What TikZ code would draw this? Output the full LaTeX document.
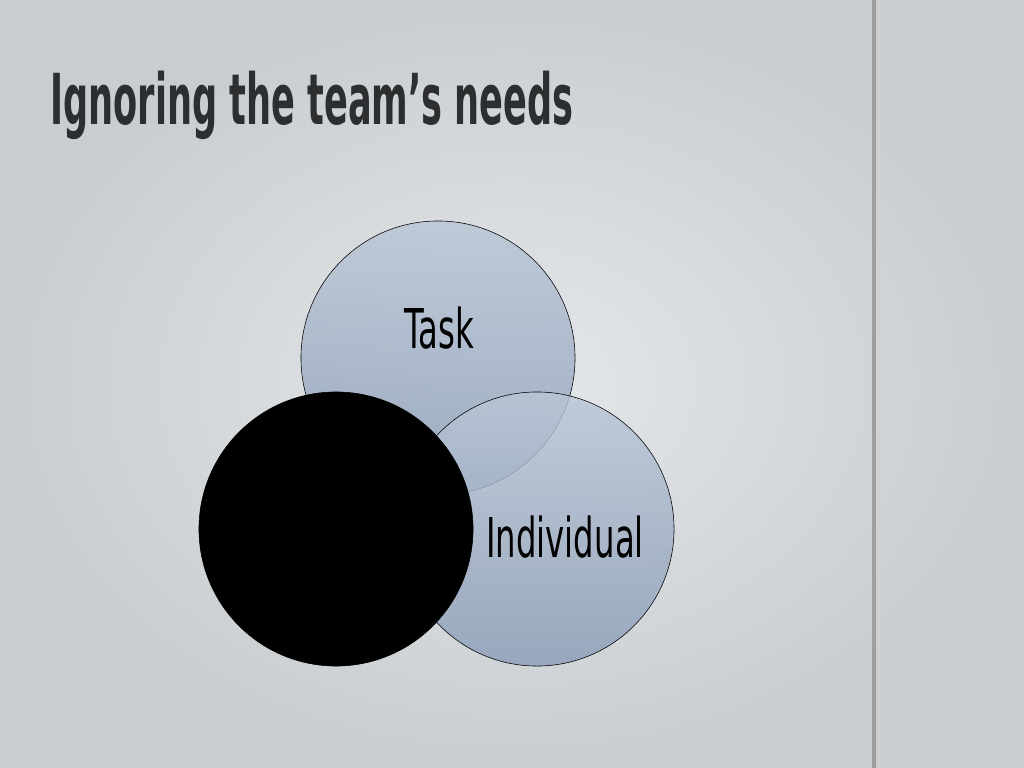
\documentclass[tikz,border=0pt]{standalone}
\usepackage{fontspec}
\newfontfamily\agency[FakeStretch=0.59]{DejaVu Sans}
\newfontfamily\agencytitle[FakeStretch=0.5]{DejaVu Sans}
\usetikzlibrary{positioning}

\definecolor{slidebg}{RGB}{229,232,234}
\definecolor{slideedge}{RGB}{200,205,208}
\definecolor{ringtop}{RGB}{186,198,214}
\definecolor{ringbot}{RGB}{140,158,184}
\definecolor{titlegray}{RGB}{44,46,48}

\begin{document}
\begin{tikzpicture}[x=0.025cm, y=-0.025cm,
					ring/.style={circle, draw=black, thin, minimum size=6.85cm, inner sep=0pt,
								 top color=ringtop, bottom color=ringbot, fill opacity=0.82},
					blackring/.style={circle, draw=black, fill=black, minimum size=6.85cm, inner sep=0pt},
					ringtext/.style={font=\agency\fontsize{39}{39}\selectfont, text=black, inner sep=0pt}]

	\useasboundingbox (0,0) rectangle (1024,768);
	\shade[inner color=slidebg, outer color=slideedge] (0,0) rectangle (1024,768);
	\draw[line width=2.2pt, color=gray!75] (874,0) -- (874,768);
	\draw[line width=0.8pt, color=gray!35] (879,0) -- (879,768);

	\node[anchor=base west, font=\agencytitle\bfseries\fontsize{50}{50}\selectfont, text=titlegray, inner sep=0pt] (title) at (50,125) {Ignoring the team’s needs};

	\node[ring] (task) at (438,358) {};
	\node[ring] (individual) at (537,529) {};
	\node[blackring] (team) at (336,529) {};

	\node[ringtext, anchor=base] (tasklabel) at (439,348) {Task};
	\node[ringtext, anchor=base] (indlabel) at (565,557) {Individual};
\end{tikzpicture}
\end{document}
